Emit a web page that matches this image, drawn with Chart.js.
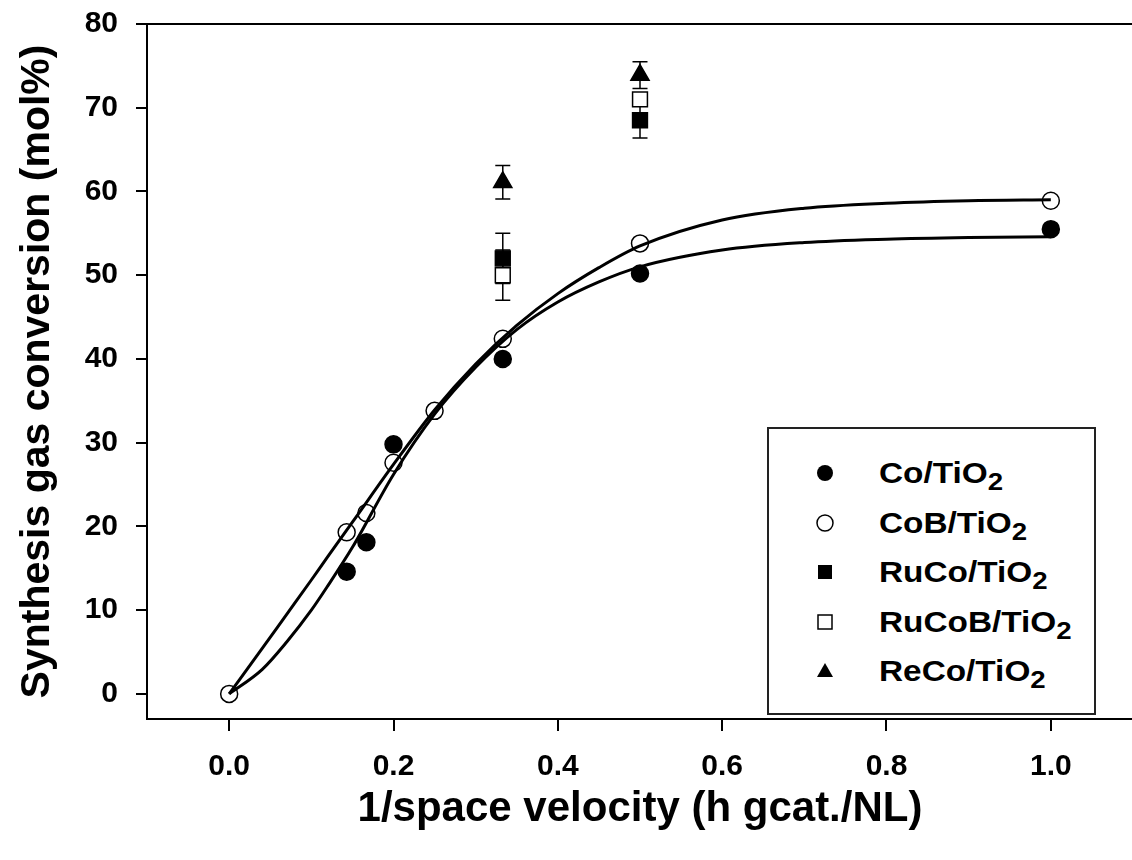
<!DOCTYPE html>
<html>
<head>
<meta charset="utf-8">
<title>Synthesis gas conversion</title>
<script src="https://cdn.jsdelivr.net/npm/chart.js@4.4.1/dist/chart.umd.min.js"></script>
<style>
  html, body { margin: 0; padding: 0; background: #fff; overflow: hidden; }
  #wrap { position: relative; width: 1145px; height: 860px; }
  #legend {
    position: absolute; left: 767px; top: 427px; width: 329px; height: 288px;
    box-sizing: border-box; border: 2px solid #222; background: #fff;
    font-family: 'Liberation Sans', Arial, sans-serif; font-weight: bold; color: #000;
  }
  .lg-row { position: absolute; left: 0; height: 40px; width: 100%; }
  .lg-row svg { position: absolute; left: 44px; top: 8px; }
  .lg-text { position: absolute; left: 110px; top: 0; font-size: 29px; line-height: 40px;
    white-space: nowrap; transform: scaleX(1.15); transform-origin: left center; }
  .lg-text sub { font-size: 24px; vertical-align: -7px; line-height: 0; }
</style>
</head>
<body>
<div id="wrap">
  <canvas id="chart"></canvas>
  <div id="legend"></div>
</div>
<script>
// Data
const seriesNames = ['Co/TiO', 'CoB/TiO', 'RuCo/TiO', 'RuCoB/TiO', 'ReCo/TiO'];

const coX = [0.143, 0.167, 0.2, 0.333, 0.5, 1.0];
const coY = [14.6, 18.1, 29.8, 40.0, 50.2, 55.5];

const cobX = [0, 0.143, 0.167, 0.2, 0.25, 0.333, 0.5, 1.0];
const cobY = [0, 19.3, 21.6, 27.6, 33.8, 42.4, 53.8, 58.9];

const rucoX = [0.333, 0.5];
const rucoY = [52.0, 68.5];
const rucoErr = [3.0, 2.1];

const rucobX = [0.333, 0.5];
const rucobY = [50.0, 71.0];
const rucobErr = [3.0, 0.8];

const recoX = [0.333, 0.5];
const recoY = [61.1, 73.9];
const recoErr = [2.0, 1.6];

// fitted curves
const fitX = [0, 0.04, 0.07, 0.1, 0.12, 0.15, 0.2, 0.25, 0.3, 0.35, 0.4, 0.45, 0.5, 0.6, 0.7, 0.8, 0.9, 1.0];
const fitCobY = [0, 5.4, 9.5, 13.6, 16.4, 20.5, 27.4, 33.9, 39.4, 44.0, 47.8, 50.9, 53.5, 56.6, 58.0, 58.6, 58.9, 59.0];
const fitCoY = [0, 2.9, 6.2, 10.0, 12.9, 17.5, 26.2, 33.4, 39.0, 43.5, 46.8, 49.2, 51.0, 53.0, 53.9, 54.3, 54.5, 54.6];

const xTicks = [0, 0.2, 0.4, 0.6, 0.8, 1.0];
const yTicks = [0, 10, 20, 30, 40, 50, 60, 70, 80];

const FONT = "'Liberation Sans', Arial, sans-serif";

const pts = (xs, ys) => xs.map((x, i) => ({ x: x, y: ys[i] }));

const markers = [
  { style: 'circle', fill: '#000', radius: 8.5 },
  { style: 'circle', fill: 'rgba(0,0,0,0)', radius: 8.5 },
  { style: 'rect', fill: '#000', radius: 10.5 },
  { style: 'rect', fill: '#fff', radius: 10.5 },
  { style: 'triangle', fill: '#000', radius: 10.5 },
];

function pointSet(i, xs, ys, errs) {
  return {
    label: seriesNames[i] + '2',
    data: pts(xs, ys),
    errors: errs || null,
    showLine: false,
    pointStyle: markers[i].style,
    pointRadius: markers[i].radius,
    pointBackgroundColor: markers[i].fill,
    pointBorderColor: '#000',
    pointBorderWidth: 1.5,
    order: i,
  };
}

function curveSet(ys) {
  return {
    label: 'fit',
    data: pts(fitX, ys),
    showLine: true,
    borderColor: '#000',
    borderWidth: 3,
    pointRadius: 0,
    cubicInterpolationMode: 'monotone',
    fill: false,
    order: 10,
  };
}

// error bars behind the markers
const errorBars = {
  id: 'errorBars',
  beforeDatasetsDraw(chart) {
    const { ctx, scales: { x, y } } = chart;
    ctx.save();
    ctx.strokeStyle = '#000';
    ctx.lineWidth = 1.5;
    chart.data.datasets.forEach(ds => {
      if (!ds.errors) return;
      ds.data.forEach((p, i) => {
        const px = x.getPixelForValue(p.x);
        const top = y.getPixelForValue(p.y + ds.errors[i]);
        const bot = y.getPixelForValue(p.y - ds.errors[i]);
        ctx.beginPath();
        ctx.moveTo(px, top); ctx.lineTo(px, bot);
        ctx.moveTo(px - 7.5, top); ctx.lineTo(px + 7.5, top);
        ctx.moveTo(px - 7.5, bot); ctx.lineTo(px + 7.5, bot);
        ctx.stroke();
      });
    });
    ctx.restore();
  },
  afterDraw(chart) {
    // top frame line
    const { ctx, chartArea } = chart;
    ctx.save();
    ctx.strokeStyle = '#000';
    ctx.lineWidth = 2;
    ctx.beginPath();
    ctx.moveTo(chartArea.left, chartArea.top);
    ctx.lineTo(chartArea.right, chartArea.top);
    ctx.stroke();
    ctx.restore();
  }
};

const canvas = document.getElementById('chart');
canvas.width = 1145;
canvas.height = 860;

new Chart(canvas, {
  type: 'scatter',
  data: {
    datasets: [
      pointSet(0, coX, coY),
      pointSet(1, cobX, cobY),
      pointSet(2, rucoX, rucoY, rucoErr),
      pointSet(3, rucobX, rucobY, rucobErr),
      pointSet(4, recoX, recoY, recoErr),
      curveSet(fitCobY),
      curveSet(fitCoY),
    ],
  },
  options: {
    responsive: false,
    animation: false,
    layout: { padding: { top: 24, right: 2, left: 0, bottom: 0 } },
    plugins: { legend: { display: false }, tooltip: { enabled: false } },
    scales: {
      x: {
        type: 'linear',
        min: -0.1,
        max: 1.1,
        afterBuildTicks: s => { s.ticks = xTicks.map(v => ({ value: v })); },
        afterFit: s => { s.height = 141; s.paddingLeft = 0; s.paddingRight = 0; },
        border: { display: true, color: '#000', width: 2 },
        grid: { drawOnChartArea: false, drawTicks: true, tickLength: 12, color: '#000', lineWidth: 2 },
        ticks: {
          color: '#000', padding: 18,
          font: { family: FONT, size: 30, weight: 'bold' },
          callback: v => v.toFixed(1),
        },
        title: {
          display: true, text: '1/space velocity (h gcat./NL)', color: '#000',
          font: { family: FONT, size: 42, weight: 'bold' },
          padding: { top: 0, bottom: 25 },
        },
      },
      y: {
        type: 'linear',
        min: -3,
        max: 80,
        afterBuildTicks: s => { s.ticks = yTicks.map(v => ({ value: v })); },
        afterFit: s => { s.width = 147; s.paddingTop = 0; s.paddingBottom = 0; },
        border: { display: true, color: '#000', width: 2 },
        grid: { drawOnChartArea: false, drawTicks: true, tickLength: 11, color: '#000', lineWidth: 2 },
        ticks: {
          color: '#000', padding: 18,
          font: { family: FONT, size: 30, weight: 'bold' },
          callback: v => String(v),
        },
        title: {
          display: true, text: 'Synthesis gas conversion (mol%)', color: '#000',
          font: { family: FONT, size: 41, weight: 'bold' },
          padding: { top: 13, bottom: 0 },
        },
      },
    },
  },
  plugins: [errorBars],
});

// legend with subscripts
const legendIcons = [
  '<circle cx="12" cy="12" r="8" fill="#000"/>',
  '<circle cx="12" cy="12" r="8" fill="none" stroke="#000" stroke-width="1.5"/>',
  '<rect x="5" y="5" width="14" height="14" fill="#000"/>',
  '<rect x="5" y="5" width="14" height="14" fill="#fff" stroke="#000" stroke-width="1.5"/>',
  '<polygon points="12,4 20,18 4,18" fill="#000"/>',
];
const legendEl = document.getElementById('legend');
seriesNames.forEach((name, i) => {
  const row = document.createElement('div');
  row.className = 'lg-row';
  row.style.top = (24 + i * 49.5) + 'px';
  row.innerHTML = '<svg width="24" height="24" viewBox="0 0 24 24">' + legendIcons[i] + '</svg>' +
    '<span class="lg-text">' + name + '<sub>2</sub></span>';
  legendEl.appendChild(row);
});
</script>
</body>
</html>
